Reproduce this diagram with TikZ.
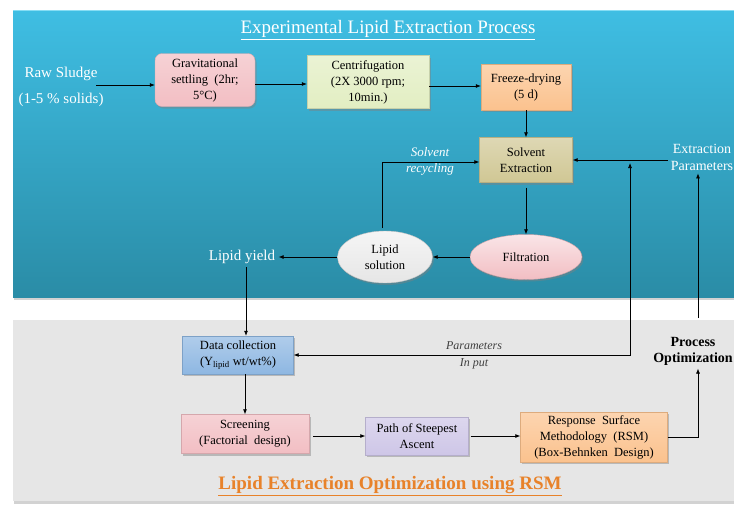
\documentclass[tikz,border=0pt]{standalone}
\usepackage{fontspec}
\setmainfont{Liberation Serif}
\usetikzlibrary{shapes.geometric,shadows,arrows.meta,calc}

\definecolor{bluetop}{HTML}{3FBEE3}
\definecolor{bluebot}{HTML}{2A8CA6}
\definecolor{blueedge}{HTML}{86DDF4}
\definecolor{panelgray}{HTML}{E6E6E6}
\definecolor{pinkbox}{HTML}{F2BEC3}
\definecolor{greenbox}{HTML}{E2EEC2}
\definecolor{orangebox}{HTML}{FBC28E}
\definecolor{khakibox}{HTML}{D0C794}
\definecolor{bluebox}{HTML}{8EB7E2}
\definecolor{lavbox}{HTML}{CEC6E7}
\definecolor{ovalgray}{HTML}{E6E6E6}
\definecolor{titleorange}{HTML}{E8822A}
\definecolor{notegray}{HTML}{404040}

\newcommand{\stagefont}{\fontsize{12.5}{16}\selectfont}

\tikzset{
  arr/.style={draw=black, line width=0.7pt, -{Latex[length=5pt,width=4pt]}},
  arrboth/.style={draw=black, line width=0.7pt,
    {Latex[length=5pt,width=4pt]}-{Latex[length=5pt,width=4pt]}},
  stagebox/.style={rectangle, draw=#1!88!black, line width=0.4pt,
    top color=#1!70!white, bottom color=#1, align=center, inner sep=1pt,
    font=\stagefont,
    drop shadow={opacity=0.45, shadow xshift=1.5pt, shadow yshift=-2pt}},
  stageoval/.style={ellipse, draw=#1!85!black, line width=0.4pt,
    top color=#1!40!white, bottom color=#1, align=center, inner sep=0pt,
    font=\stagefont,
    drop shadow={opacity=0.45, shadow xshift=1.5pt, shadow yshift=-2pt}},
  whitelabel/.style={text=white, align=center},
  panel/.style={drop shadow={opacity=0.35, shadow xshift=1pt, shadow yshift=-2.5pt}}
}

\begin{document}
\begin{tikzpicture}[x=1pt, y=-1pt]
\useasboundingbox (0,0) rectangle (734,504);
\clip (0,0) rectangle (734,504);
\fill[white] (0,0) rectangle (734,504);

% panels
\path[panel, top color=bluetop, bottom color=bluebot] (13,10) rectangle (745,297);
\draw[blueedge, line width=1.2pt] (13,10.7) -- (745,10.7);
\path[panel, fill=panelgray] (13,320) rectangle (745,501);

% titles
\node[text=white, font=\fontsize{19}{21}\selectfont] (title) at (388,30)
  {\underline{Experimental Lipid Extraction Process}};
\node[text=titleorange, font=\bfseries\fontsize{19}{21}\selectfont] (btitle) at (390,486)
  {\underline{Lipid Extraction Optimization using RSM}};

% upper process chain
\node[whitelabel, font=\fontsize{15}{18}\selectfont] (raw) at (61,87)
  {Raw Sludge\\[8pt](1-5 \% solids)};
\coordinate (rawout) at (96,85);

\node[stagebox=pinkbox, rounded corners=7pt, minimum width=100, minimum height=53] (grav) at (205,80)
  {Gravitational\\settling~~(2hr;\\5°C)};
\node[stagebox=greenbox, minimum width=122, minimum height=53] (centri) at (368,82)
  {Centrifugation\\(2X 3000 rpm;\\10min.)};
\node[stagebox=orangebox, minimum width=90, minimum height=46] (freeze) at (526,87)
  {Freeze-drying\\(5 d)};
\node[stagebox=khakibox, minimum width=93, minimum height=45] (solvent) at (526,160)
  {Solvent\\Extraction};
\node[stageoval=pinkbox, minimum width=112, minimum height=45] (filt) at (526,257)
  {Filtration};
\node[stageoval=ovalgray, minimum width=95, minimum height=52] (lipid) at (385,257)
  {Lipid\\solution};
\node[whitelabel, font=\fontsize{15}{18}\selectfont] (yield) at (242,257) {Lipid yield};

\node[whitelabel, font=\itshape\fontsize{13}{16}\selectfont] (recyc) at (430,161)
  {Solvent\\recycling};
\node[whitelabel, font=\fontsize{14}{17}\selectfont, inner sep=3pt] (extr) at (702,157)
  {Extraction\\Parameters};

% optimisation chain
\node[stagebox=bluebox, minimum width=111, minimum height=38] (data) at (238,355)
  {Data collection\\(Y\textsubscript{lipid} wt/wt\%)};
\node[stagebox=pinkbox, minimum width=128, minimum height=39] (screen) at (245,434)
  {Screening\\(Factorial~~design)};
\node[stagebox=lavbox, minimum width=103, minimum height=38] (path) at (417,436)
  {Path of Steepest\\Ascent};
\node[stagebox=orangebox, minimum width=147, minimum height=50] (rsm) at (594,437)
  {Response~~Surface\\Methodology~~(RSM)\\(Box-Behnken~~Design)};

\node[text=notegray, align=center, font=\itshape\fontsize{12}{17}\selectfont] (pin) at (474,355)
  {Parameters\\In put};
\node[align=center, font=\bfseries\fontsize{14}{16}\selectfont] (proc) at (693,351)
  {Process\\Optimization};

\coordinate (pjoin) at (630,163);
\coordinate (procbase) at (698,318);

% connectors
\draw[arr] (rawout) -- (rawout -| grav.west);
\draw[arr] (grav.east |- 0,84) -- (centri.west |- 0,84);
\draw[arr] (centri.east |- 0,86) -- (freeze.west |- 0,86);
\draw[arr] (freeze.south) -- (solvent.north);
\draw[arr, shorten <=5pt] (solvent.south) -- (filt.north);
\draw[arr] (filt.west) -- (lipid.east);
\draw[arr] (lipid.west) -- (yield.east);
\draw[arr, shorten <=3pt] (lipid.north -| 382,0) |- (solvent.west |- 0,162);
\draw[arr] (extr.west |- solvent.east) -- (solvent.east);
\draw[arr] (procbase) -- (procbase |- extr.south);
\draw[arr] (rsm.east) -| (procbase |- proc.south);
\draw[arrboth] (pjoin) |- (data.east);
\draw[arr] (yield.south -| 246,0) -- (data.north -| 246,0);
\draw[arr] (data.south -| screen.north) -- (screen.north);
\draw[arr, shorten <=4pt] (path.west -| screen.east) -- (path.west);
\draw[arr, shorten <=2pt] (path.east) -- (path.east -| rsm.west);
\end{tikzpicture}
\end{document}
